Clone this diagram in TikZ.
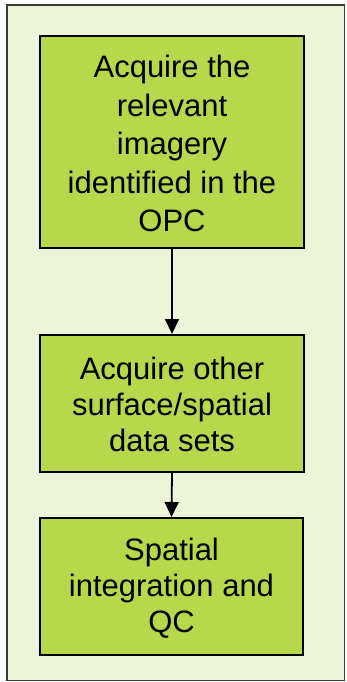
\documentclass[tikz,border=0pt]{standalone}
\usepackage{fontspec}
\setmainfont{Liberation Sans}
\usetikzlibrary{arrows.meta}
\definecolor{outerbg}{RGB}{237,245,216}
\definecolor{boxgreen}{RGB}{182,216,74}
\definecolor{outerline}{RGB}{60,60,60}
\tikzset{
  stepbox/.style={draw=black, line width=2pt, fill=boxgreen, rectangle, inner sep=0pt},
  steptext/.style={align=center, inner sep=0pt, anchor=base},
  flow/.style={draw=black, line width=1.8pt, -{Triangle[width=14pt,length=15pt]}}
}
\begin{document}
\begin{tikzpicture}[x=1pt,y=-1pt]
\useasboundingbox (0,0) rectangle (346,682);
\draw[fill=outerbg, draw=outerline, line width=1.5pt] (7,5) rectangle (344.5,680.5);
\node[stepbox, minimum width=264pt, minimum height=212pt] (b1) at (172,142) {};
\node[stepbox, minimum width=264pt, minimum height=137pt] (b2) at (172,403.5) {};
\node[stepbox, minimum width=263pt, minimum height=137pt] (b3) at (171.5,586.5) {};
\node[steptext, font=\fontsize{31}{38.5}\selectfont] (t1) at (172,231.5)
  {Acquire the\\relevant\\imagery\\identified in the\\OPC};
\node[steptext, font=\fontsize{31}{36}\selectfont] (t2) at (172,451)
  {Acquire other\\surface/spatial\\data sets};
\node[steptext, font=\fontsize{31}{36}\selectfont] (t3) at (171.5,632.5)
  {Spatial\\integration and\\QC};
\draw[flow] (b1.south) -- (b2.north);
\draw[flow] (b2.south) -- (b3.north);
\end{tikzpicture}
\end{document}
